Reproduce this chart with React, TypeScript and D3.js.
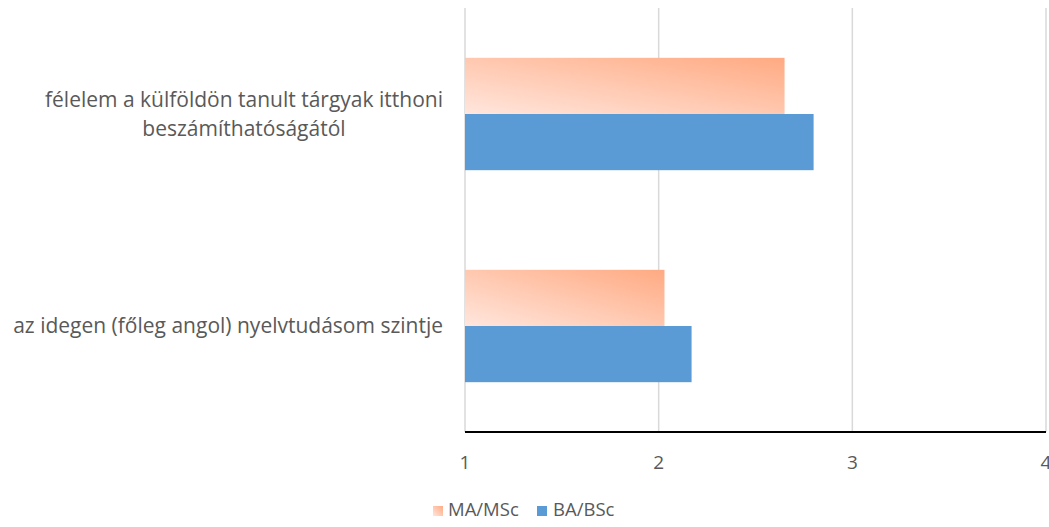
import { useLayoutEffect, useRef, useState } from 'react'
import * as d3 from 'd3'

const categories = [
  ['félelem a külföldön tanult tárgyak itthoni', 'beszámíthatóságától'],
  ['az idegen (főleg angol) nyelvtudásom szintje'],
]
const seriesNames = ['MA/MSc', 'BA/BSc']
const maValues = [2.65, 2.03]
const baValues = [2.8, 2.17]
const xTicks = [1, 2, 3, 4]

const WIDTH = 1049
const HEIGHT = 527
const PLOT_LEFT = 465
const PLOT_RIGHT = 1046
const PLOT_TOP = 8
const PLOT_BOTTOM = 432
const LABEL_RIGHT = 443
const TEXT_COLOR = '#595959'
const GRID_COLOR = '#d9d9d9'
const BLUE = '#5b9bd5'
const FONT = '"Open Sans", sans-serif'
const LABEL_SIZE = 21
const TICK_SIZE = 19
const LEGEND_SIZE = 18.5

export default function App() {
  const labelRefs = useRef<(SVGTextElement | null)[]>([])
  const [labelWidths, setLabelWidths] = useState<number[]>([])

  useLayoutEffect(() => {
    const widths = labelRefs.current.map((el) => {
      if (!el) return 0
      const spans = Array.from(el.querySelectorAll('tspan')) as SVGTSpanElement[]
      return d3.max(spans, (s) => s.getComputedTextLength()) ?? 0
    })
    setLabelWidths(widths)
  }, [])

  const x = d3.scaleLinear().domain([1, 4]).range([PLOT_LEFT, PLOT_RIGHT])
  const y = d3
    .scaleBand<number>()
    .domain(categories.map((_, i) => i))
    .range([PLOT_TOP, PLOT_BOTTOM])
    .paddingInner(0.47)
    .paddingOuter(0.235)
  const inner = d3
    .scaleBand<string>()
    .domain(seriesNames)
    .range([0, y.bandwidth()])

  return (
    <svg
      width={WIDTH}
      height={HEIGHT}
      style={{ position: 'absolute', left: 0, top: 0, fontFamily: FONT }}
    >
      <defs>
        <linearGradient id="maGrad" x1="0" y1="1" x2="1" y2="0">
          <stop offset="0" stopColor="#ffe6dd" />
          <stop offset="1" stopColor="#ffaa82" />
        </linearGradient>
      </defs>

      {xTicks.map((t) => (
        <line
          key={t}
          x1={x(t)}
          x2={x(t)}
          y1={PLOT_TOP}
          y2={PLOT_BOTTOM}
          stroke={GRID_COLOR}
          strokeWidth={1.5}
        />
      ))}

      {categories.map((_, i) => {
        const y0 = y(i) ?? 0
        return (
          <g key={i}>
            <rect
              x={x(1)}
              y={y0 + (inner('MA/MSc') ?? 0)}
              width={x(maValues[i]) - x(1)}
              height={inner.bandwidth()}
              fill="url(#maGrad)"
            />
            <rect
              x={x(1)}
              y={y0 + (inner('BA/BSc') ?? 0)}
              width={x(baValues[i]) - x(1)}
              height={inner.bandwidth()}
              fill={BLUE}
            />
          </g>
        )
      })}

      <line
        x1={PLOT_LEFT}
        x2={PLOT_RIGHT}
        y1={PLOT_BOTTOM}
        y2={PLOT_BOTTOM}
        stroke="#000"
        strokeWidth={2}
      />

      {xTicks.map((t) => (
        <text
          key={t}
          x={x(t)}
          y={PLOT_BOTTOM + 37}
          textAnchor="middle"
          fontSize={TICK_SIZE}
          fill={TEXT_COLOR}
        >
          {t}
        </text>
      ))}

      {categories.map((lines, i) => {
        const cy = (y(i) ?? 0) + y.bandwidth() / 2
        const w = labelWidths[i] ?? 0
        const cx = LABEL_RIGHT - w / 2
        const lineH = 29
        const startY = cy - ((lines.length - 1) * lineH) / 2 + 7
        return (
          <text
            key={i}
            ref={(el) => {
              labelRefs.current[i] = el
            }}
            textAnchor="middle"
            fontSize={LABEL_SIZE}
            fill={TEXT_COLOR}
          >
            {lines.map((line, j) => (
              <tspan key={j} x={cx} y={startY + j * lineH}>
                {line}
              </tspan>
            ))}
          </text>
        )
      })}

      <g transform="translate(433,506)">
        <rect width={10} height={10} fill="url(#maGrad)" />
        <text x={15} y={10} fontSize={LEGEND_SIZE} fill={TEXT_COLOR}>
          {seriesNames[0]}
        </text>
        <rect x={104} width={10} height={10} fill={BLUE} />
        <text x={120} y={10} fontSize={LEGEND_SIZE} fill={TEXT_COLOR}>
          {seriesNames[1]}
        </text>
      </g>
    </svg>
  )
}
